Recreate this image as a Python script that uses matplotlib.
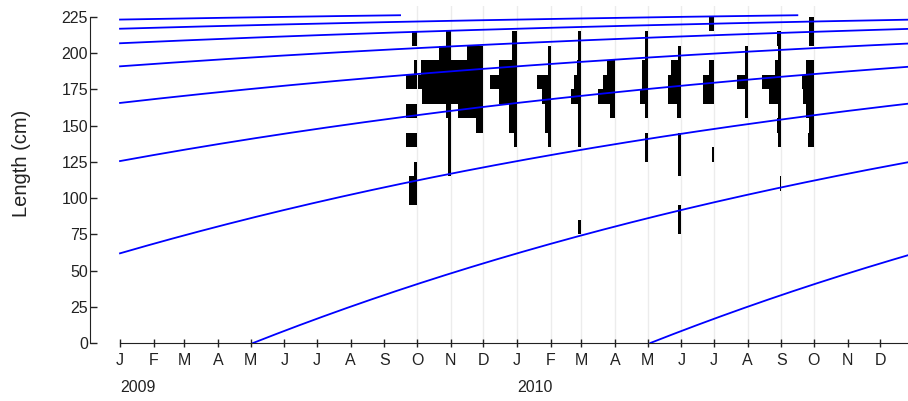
import numpy as np
import pandas as pd
import matplotlib
matplotlib.use("Agg")
import matplotlib.pyplot as plt
import matplotlib.dates as mdates

plt.rcParams['font.family'] = ['Liberation Sans', 'DejaVu Sans']

# length class midpoints (cm), 10 cm classes
length_mids = [80, 90, 100, 110, 120, 130, 140, 150, 160, 170, 180, 190, 200, 210, 220]
bin_width = 10

sample_dates = ["2009-10-01", "2009-11-01", "2009-12-01", "2010-01-01", "2010-02-01",
                "2010-03-01", "2010-04-01", "2010-05-01", "2010-06-01", "2010-07-01",
                "2010-08-01", "2010-09-01", "2010-10-01"]

# monthly length-frequency samples, one value per length class
oct09 = [0, 0, 5, 5, 2, 0, 7, 0, 7, 0, 7, 2, 0, 3, 0]
nov09 = [0, 0, 0, 0, 2, 2, 2, 2, 3, 19, 22, 20, 8, 3, 0]
dec09 = [0, 0, 0, 0, 0, 0, 0, 5, 17, 22, 22, 22, 11, 0, 0]
jan10 = [0, 0, 0, 0, 0, 0, 2, 5, 5, 12, 18, 12, 3, 3, 0]
feb10 = [0, 0, 0, 0, 0, 0, 2, 4, 4, 6, 9, 2, 2, 0, 0]
mar10 = [2, 0, 0, 0, 0, 0, 2, 2, 2, 7, 5, 3, 2, 2, 0]
apr10 = [0, 0, 0, 0, 0, 0, 0, 0, 3, 11, 8, 5, 0, 0, 0]
may10 = [0, 0, 0, 0, 0, 2, 2, 0, 2, 5, 4, 4, 2, 2, 0]
jun10 = [2, 2, 0, 0, 2, 2, 2, 0, 3, 9, 9, 7, 2, 0, 0]
jul10 = [0, 0, 0, 0, 0, 1, 0, 0, 0, 7, 7, 3, 0, 0, 3]
aug10 = [0, 0, 0, 0, 0, 0, 0, 0, 2, 2, 7, 2, 2, 0, 0]
sep10 = [0, 0, 0, 1, 0, 0, 2, 3, 2, 8, 13, 4, 2, 3, 0]
oct10 = [0, 0, 0, 0, 0, 0, 4, 3, 5, 7, 8, 5, 0, 3, 3]

# von Bertalanffy growth parameters
Linf = 234.0
K = 0.462
t_anchor = 0.335      # birth time, fraction of year
agemax = 7.37         # years

freqs = [oct09, nov09, dec09, jan10, feb10, mar10, apr10,
         may10, jun10, jul10, aug10, sep10, oct10]

start = pd.Timestamp("2009-01-01")
d0 = mdates.date2num(start)
t_end = 2.0           # curves drawn over 2009-2010
days_per_count = 1.38
ink = "#222222"

fig = plt.figure(figsize=(9.08, 4.01), dpi=100)
ax = fig.add_axes([90 / 908, 58 / 401, 818 / 908, 337 / 401])

# sample date guide lines
for d in sample_dates:
    ax.axvline(mdates.date2num(pd.Timestamp(d)), color="#ececec", lw=1.0, zorder=0)

# frequency bars, drawn to the left of each sample date
for d, f in zip(sample_dates, freqs):
    x = mdates.date2num(pd.Timestamp(d))
    f = np.asarray(f, dtype=float)
    w = f * days_per_count
    mask = f > 0
    ax.barh(np.asarray(length_mids)[mask], w[mask], height=bin_width,
            left=x - w[mask], color="black", linewidth=0, zorder=2)

# growth curves, one per annual cohort
for k in range(-8, 2):
    birth = t_anchor + k
    t0 = max(birth, 0.0)
    t1 = min(birth + agemax, t_end)
    if t1 <= t0:
        continue
    t = np.linspace(t0, t1, 600)
    L = Linf * (1 - np.exp(-K * (t - birth)))
    ax.plot(d0 + t * 365.25, L, color="#0000ff", lw=1.3, zorder=3)

ax.set_xlim(d0 - 27.6, d0 + 724.5)
ax.set_ylim(0, 232.6)

for s in ["top", "right"]:
    ax.spines[s].set_visible(False)
ax.spines["left"].set_bounds(0, 225)
ax.spines["bottom"].set_bounds(d0, d0 + 724.5)
ax.spines["left"].set_color(ink)
ax.spines["bottom"].set_color(ink)

ax.set_yticks(np.arange(0, 226, 25))
ax.tick_params(axis="y", direction="in", length=5, width=1, pad=1.5,
               labelsize=11.5, colors=ink)

months = pd.date_range("2009-01-01", "2010-12-01", freq="MS")
ax.set_xticks(mdates.date2num(months))
ax.set_xticklabels([m.strftime("%b")[0] for m in months])
ax.tick_params(axis="x", direction="inout", length=5.5, width=1, pad=4.5,
               labelsize=11.5, colors=ink)

for yr in ["2009", "2010"]:
    ax.text(mdates.date2num(pd.Timestamp(yr + "-01-01")), -0.11, yr,
            transform=ax.get_xaxis_transform(), ha="left", va="top",
            fontsize=11.5, color=ink)

fig.text(22 / 908, 1 - 163 / 401, "Length (cm)", rotation=90,
         ha="center", va="center", fontsize=14.5, color=ink)

fig.savefig("out.png", dpi=100)
